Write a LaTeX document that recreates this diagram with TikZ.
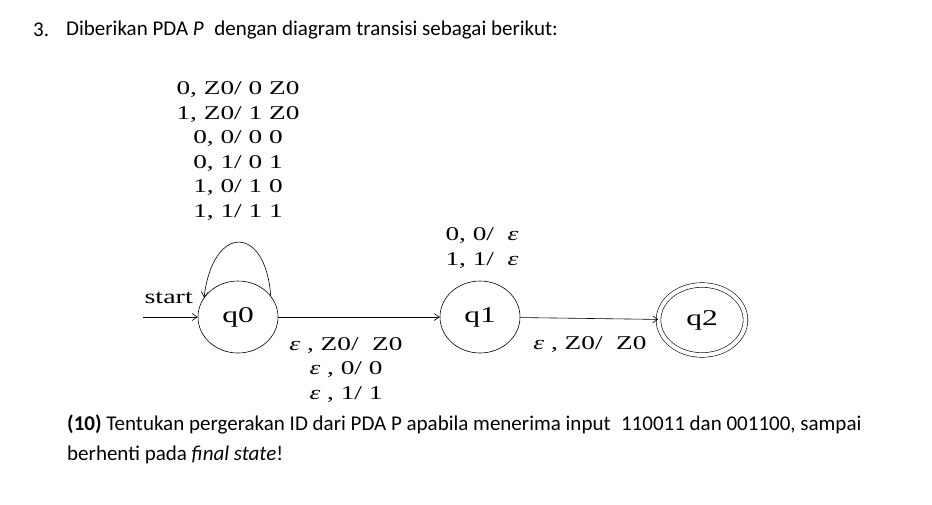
\documentclass[tikz,border=0pt]{standalone}
\usepackage{fontspec}
\setmainfont{Carlito}
\newfontfamily\tms[FakeStretch=1.4]{Liberation Serif}
\usetikzlibrary{shapes.geometric,arrows.meta}
\newcommand{\eps}{{\itshape ε}}
\begin{document}
\begin{tikzpicture}[x=1pt,y=-1pt,
  state/.style={draw,ellipse,line width=0.6pt,minimum width=80pt,minimum height=72pt,inner sep=0pt,font=\tms\fontsize{22.5}{22.5}\selectfont},
  edge/.style={draw,line width=0.6pt,-{Straight Barb[length=5pt,width=7pt]}},
  lab/.style={font=\tms\fontsize{19.5}{24.6}\selectfont,align=center,inner sep=0pt},
  txt/.style={font=\fontsize{21}{24}\selectfont,inner sep=0pt,anchor=west}]
\useasboundingbox (0,0) rectangle (932,504);
\node[txt] (num) at (33,30) {3.};
\node[txt] (title) at (66,30) {Diberikan PDA \textit{P}\enspace dengan diagram transisi sebagai berikut:};
\node[state] (q0) at (238,317) {q0};
\node[state] (q1) at (480,317) {q1};
\node[state,double,double distance=4pt,minimum width=87pt,minimum height=70pt] (q2) at (702,320) {q2};
\coordinate (s) at (143,317);
\node[lab,anchor=east,font=\tms\fontsize{20}{20}\selectfont] (start) at (193,298) {start};
\draw[edge] (s) -- (q0);
\draw[edge] (q0) -- (q1);
\draw[edge] (q1) -- (q2);
\draw[edge] (q0.33) .. controls +(-5,-71) and +(9,-74) .. (q0.150);
\node[lab] (l0) at (238,151) {0, Z0/ 0 Z0\\1, Z0/ 1 Z0\\0, 0/ 0 0\\0, 1/ 0 1\\1, 0/ 1 0\\1, 1/ 1 1};
\node[lab] (l1) at (482,248) {0, 0/ \ \eps\\1, 1/ \ \eps};
\node[lab] (l01) at (346,370) {\eps\ , Z0/ \ Z0\\\eps\ , 0/ 0\\\eps\ , 1/ 1};
\node[lab] (l12) at (590,345) {\eps\ , Z0/ \ Z0};
\node[txt] (q) at (67,425) {\textbf{(10)} Tentukan pergerakan ID dari PDA P apabila menerima input\enspace 110011 dan 001100, sampai};
\node[txt] (q2t) at (67,455) {berhenti pada \textit{final state}!};
\end{tikzpicture}
\end{document}
